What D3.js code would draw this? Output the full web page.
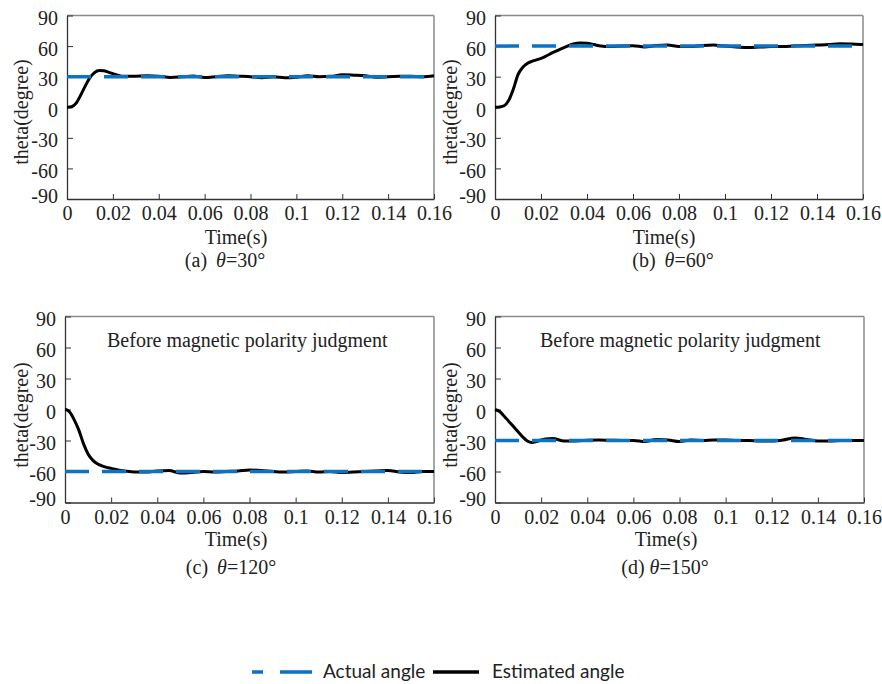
<!DOCTYPE html>
<html>
<head>
<meta charset="utf-8">
<script src="https://cdn.jsdelivr.net/npm/d3@7"></script>
<style>
  body { margin: 0; background: #fff; }
  svg { display: block; }
  .serif { font-family: "Liberation Serif", "Times New Roman", serif; font-size: 20px; fill: #222; }
  .legend { font-family: Lato, "Open Sans", sans-serif; font-size: 19px; fill: #222; }
</style>
</head>
<body>
<svg id="chart" width="882" height="684"></svg>
<script>
// axis ticks
var xTicks = [0, 0.02, 0.04, 0.06, 0.08, 0.1, 0.12, 0.14, 0.16];
var yTicks = [-90, -60, -30, 0, 30, 60, 90];

// actual angle per panel (a)..(d)
var actualAngle = [30, 60, -60, -30];
var captionLetters = ['(a)', '(b)', '(c)', '(d)'];
var captionAngles = ['=30°', '=60°', '=120°', '=150°'];
var noteText = 'Before magnetic polarity judgment';

// estimated angle
var tA = [0, 0.002, 0.004, 0.006, 0.008, 0.010, 0.012, 0.014, 0.016, 0.018, 0.020, 0.022, 0.025, 0.03, 0.035, 0.04, 0.045, 0.05, 0.055, 0.06, 0.065, 0.07, 0.075, 0.08, 0.085, 0.09, 0.095, 0.1, 0.105, 0.11, 0.115, 0.12, 0.125, 0.13, 0.135, 0.14, 0.145, 0.15, 0.155, 0.16];
var estA = [0, 0.5, 4, 12, 21, 29, 34, 36, 35.8, 34.5, 33, 31.5, 30.3, 30.5, 30.8, 30.5, 29.3, 29.8, 30.6, 29.2, 30, 31, 30.5, 30, 29, 29.8, 29, 29.5, 31, 30, 30.3, 31.8, 31.5, 31, 29.5, 30, 30.3, 30.5, 30, 31];

var tB = [0, 0.002, 0.004, 0.006, 0.008, 0.010, 0.012, 0.014, 0.016, 0.018, 0.020, 0.022, 0.025, 0.028, 0.031, 0.034, 0.037, 0.040, 0.043, 0.046, 0.05, 0.055, 0.06, 0.065, 0.07, 0.075, 0.08, 0.085, 0.09, 0.095, 0.1, 0.105, 0.11, 0.115, 0.12, 0.125, 0.13, 0.135, 0.14, 0.145, 0.15, 0.155, 0.16];
var estB = [0, 0.3, 1.5, 7, 18, 32, 39, 43, 45, 46.5, 48, 50, 53.5, 56.5, 59.5, 62, 63, 62.8, 61.5, 60, 59.5, 60, 60.3, 59.2, 60.5, 61, 59.5, 59.5, 60.5, 61, 60, 59.2, 58.5, 59, 59.5, 59.5, 60, 60.5, 61, 61.5, 62.3, 62, 61.5];

var tC = [0, 0.001, 0.002, 0.004, 0.006, 0.008, 0.010, 0.012, 0.014, 0.016, 0.018, 0.020, 0.023, 0.026, 0.03, 0.035, 0.04, 0.045, 0.05, 0.055, 0.06, 0.065, 0.07, 0.075, 0.08, 0.085, 0.09, 0.095, 0.1, 0.105, 0.11, 0.115, 0.12, 0.125, 0.13, 0.135, 0.14, 0.145, 0.15, 0.155, 0.16];
var estC = [0, -0.5, -2.5, -10, -20, -33, -43, -49, -52.5, -54.5, -56, -57, -58.5, -59.5, -60.5, -60.5, -59.5, -59, -61.5, -61, -60, -60.5, -60, -59.5, -58.5, -59, -60, -60.5, -60, -59.5, -60.5, -60, -61, -60.5, -60, -59.5, -59, -60.5, -61, -60, -60];

var tD = [0, 0.002, 0.004, 0.006, 0.008, 0.010, 0.012, 0.014, 0.016, 0.018, 0.020, 0.022, 0.025, 0.03, 0.035, 0.04, 0.045, 0.05, 0.055, 0.06, 0.065, 0.07, 0.075, 0.08, 0.085, 0.09, 0.095, 0.1, 0.105, 0.11, 0.115, 0.12, 0.125, 0.13, 0.135, 0.14, 0.145, 0.15, 0.155, 0.16];
var estD = [0, -2, -6.5, -11.5, -16.5, -21.5, -26.5, -30.5, -32, -31, -29.5, -28.5, -28, -30.5, -30.5, -29.8, -29.5, -29.8, -30, -30, -31, -29, -29.5, -31, -29.5, -30, -29.5, -29.5, -30, -30, -30.5, -30.5, -29.5, -27.5, -29, -30.5, -30.5, -30, -30, -30];

var times = [tA, tB, tC, tD];
var estimates = [estA, estB, estC, estD];

// panel boxes
var panels = [
  { left: 67, top: 15.5, width: 367, height: 183.5, labelX: 236, capX: 225, capY: 267, timeY: 244, ylabX: 28, ylabY: 112 },
  { left: 495, top: 15.5, width: 368, height: 183.5, labelX: 664, capX: 673, capY: 267, timeY: 244, ylabX: 457, ylabY: 112 },
  { left: 65, top: 316.5, width: 369, height: 186, labelX: 236, capX: 231, capY: 574, timeY: 546, ylabX: 28, ylabY: 415, note: 107 },
  { left: 495, top: 316.5, width: 369, height: 186, labelX: 666, capX: 665, capY: 574, timeY: 546, ylabX: 457, ylabY: 415, note: 540 }
];

var blue = '#0c72c2';
var serifFont = '"Liberation Serif", "Times New Roman", serif';
var svg = d3.select('#chart');

panels.forEach(function(p, i) {
  var x = d3.scaleLinear().domain([0, 0.16]).range([0, p.width]);
  var y = d3.scaleLinear().domain([-90, 90]).range([p.height, 0]);

  var g = svg.append('g').attr('transform', 'translate(' + p.left + ',' + p.top + ')');

  // top and right border in grey
  g.append('line').attr('x1', 0).attr('x2', p.width).attr('y1', 0).attr('y2', 0)
    .attr('stroke', '#8a8a8a').attr('stroke-width', 1.5);
  g.append('line').attr('x1', p.width).attr('x2', p.width).attr('y1', 0).attr('y2', p.height)
    .attr('stroke', '#8a8a8a').attr('stroke-width', 1.5);

  var xAxis = g.append('g').attr('transform', 'translate(0,' + p.height + ')')
    .call(d3.axisBottom(x).tickValues(xTicks).tickSizeInner(-5).tickSizeOuter(0).tickPadding(7)
      .tickFormat(function(d) { return String(+d.toFixed(2)); }));
  var yAxis = g.append('g')
    .call(d3.axisLeft(y).tickValues(yTicks).tickSizeInner(-6).tickSizeOuter(0).tickPadding(9)
      .tickFormat(function(d) { return String(d); }));

  [xAxis, yAxis].forEach(function(ax) {
    ax.attr('font-family', serifFont).attr('font-size', 20);
    ax.select('.domain').attr('stroke', '#333').attr('stroke-width', 1.3);
    ax.selectAll('.tick line').attr('stroke', '#333');
    ax.selectAll('.tick text').attr('fill', '#222');
  });
  yAxis.selectAll('.tick text').attr('dy', function(d) { return d === -90 ? '0.15em' : '0.45em'; });

  // estimated angle
  var pts = times[i].map(function(t, k) { return [t, estimates[i][k]]; });
  var line = d3.line().x(function(d) { return x(d[0]); }).y(function(d) { return y(d[1]); })
    .curve(d3.curveMonotoneX);
  g.append('path').datum(pts).attr('d', line)
    .attr('fill', 'none').attr('stroke', '#000').attr('stroke-width', 3).attr('stroke-linejoin', 'round');

  // actual angle
  g.append('line').attr('x1', x(0)).attr('x2', x(0.16))
    .attr('y1', y(actualAngle[i])).attr('y2', y(actualAngle[i]))
    .attr('stroke', blue).attr('stroke-width', 3.5).attr('stroke-dasharray', '24,13');

  if (p.note) {
    svg.append('text').attr('class', 'serif').attr('x', p.note).attr('y', p.top + 30).text(noteText);
  }

  svg.append('text').attr('class', 'serif')
    .attr('transform', 'translate(' + p.ylabX + ',' + p.ylabY + ') rotate(-90)')
    .attr('text-anchor', 'middle').text('theta(degree)');

  svg.append('text').attr('class', 'serif').attr('x', p.labelX).attr('y', p.timeY)
    .attr('text-anchor', 'middle').text('Time(s)');

  var cap = svg.append('text').attr('class', 'serif').attr('x', p.capX).attr('y', p.capY)
    .attr('text-anchor', 'middle');
  cap.append('tspan').text(captionLetters[i]);
  cap.append('tspan').attr('dx', i === 3 ? 5 : 9).attr('font-style', 'italic').text('θ');
  cap.append('tspan').text(captionAngles[i]);
});

// legend
var lg = svg.append('g');
lg.append('line').attr('x1', 252).attr('x2', 312).attr('y1', 672).attr('y2', 672)
  .attr('stroke', blue).attr('stroke-width', 3.5).attr('stroke-dasharray', '11,17,40');
lg.append('text').attr('class', 'legend').attr('x', 323).attr('y', 678).text('Actual angle');
lg.append('line').attr('x1', 433).attr('x2', 479).attr('y1', 672).attr('y2', 672)
  .attr('stroke', '#000').attr('stroke-width', 3.5);
lg.append('text').attr('class', 'legend').attr('x', 492).attr('y', 678).text('Estimated angle');
</script>
</body>
</html>
